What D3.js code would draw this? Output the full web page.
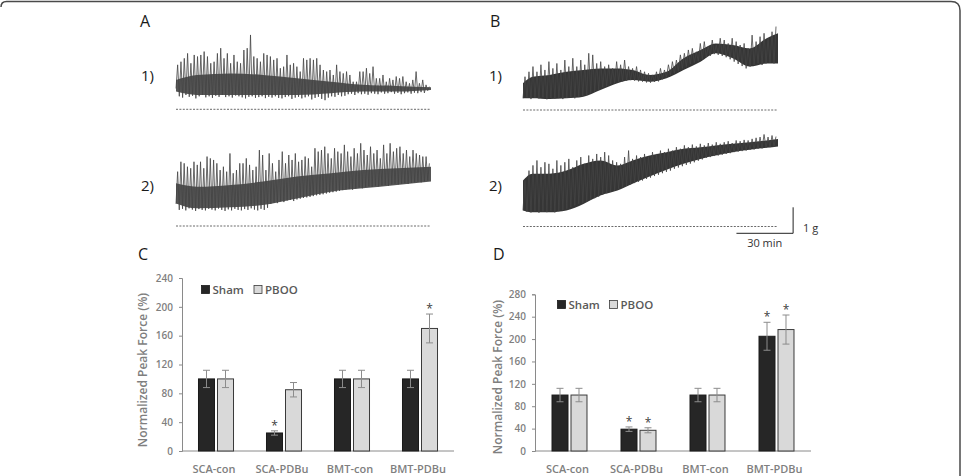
<!DOCTYPE html>
<html>
  <head>
    <title>Peak force traces and bars</title>
    <script src="https://d3js.org/d3.v7.min.js"></script>
    <style>
      body { margin: 0; background: #fff; }
      text { font-family: "Open Sans", sans-serif; }
      .panel-label { font-size: 16px; fill: #1a1a1a; }
      .trace-label { font-size: 15px; fill: #1a1a1a; }
      .axis path, .axis line { stroke: #8a8a8a; }
      .axis text { font-size: 10px; font-weight: 600; fill: #7f7f7f; }
      .cat-label { font-size: 11px; font-weight: 600; fill: #7f7f7f; }
      .y-title { font-size: 12px; font-weight: 600; fill: #7f7f7f; }
      .legend text { font-size: 11.5px; font-weight: 600; fill: #595959; }
      .star { font-size: 12px; fill: #404040; }
      .scale-text { font-size: 11px; fill: #333; }
    </style>
  </head>
  <body>
    <svg width="965" height="476"></svg>
    <script>
      // ---- trace data (force in g, evenly spaced over the recording) ----
      const traceMinutes = 135;

      const a1Peaks = [1.71,1.83,1.96,2.15,1.77,2.09,2.03,2.09,2.22,2.03,
        1.77,1.83,2.15,2.35,1.96,2.15,1.77,2.09,1.83,1.77,
        2.28,2.35,2.86,2.03,1.96,1.83,2.15,2.09,2.03,1.90,
        1.96,1.58,1.64,2.09,1.71,1.77,1.64,1.45,1.96,1.90,
        1.96,1.90,1.96,1.71,1.51,1.45,1.51,1.32,1.71,1.45,
        1.38,1.45,1.32,1.06,1.06,1.45,1.45,1.58,1.38,1.64,
        1.19,1.19,1.32,1.06,1.19,1.13,1.26,1.19,1.26,1.06,
        1.00,1.13,1.45,1.00,1.13,0.94,0.87];
      const a1Troughs = [0.8,0.5,0.45,0.55,0.48,0.52,0.42,0.5,0.55,0.46,
        0.5,0.44,0.52,0.48,0.55,0.47,0.5,0.45,0.53,0.5,
        0.46,0.42,0.48,0.5,0.44,0.47,0.5,0.43,0.48,0.45,
        0.5,0.44,0.42,0.47,0.5,0.4,0.45,0.48,0.42,0.46,
        0.5,0.38,0.44,0.48,0.4,0.35,0.45,0.5,0.48,0.55,
        0.5,0.52,0.58,0.6,0.55,0.62,0.58,0.6,0.56,0.62,
        0.6,0.58,0.65,0.6,0.62,0.66,0.6,0.63,0.58,0.62,
        0.65,0.6,0.64,0.62,0.66,0.63,0.72];
      const aCoreTime = [0, 11, 29, 46, 64, 82, 99, 117, 135];
      const a1CoreLow = [0.68, 0.55, 0.55, 0.55, 0.55, 0.62, 0.68, 0.68, 0.74];
      const a1CoreHigh = [1.13, 1.32, 1.38, 1.32, 1.19, 1.06, 0.94, 0.9, 0.85];

      const a2Peaks = [2.09,2.47,2.41,2.28,2.22,2.47,2.35,2.47,2.22,2.67,
        2.6,2.54,2.41,2.15,2.28,2.09,2.79,2.03,2.15,2.41,
        2.41,2.6,2.35,2.15,2.28,2.92,2.73,2.15,2.79,2.41,
        2.09,2.54,2.86,2.41,2.73,2.54,2.79,2.47,2.54,2.67,
        2.6,2.28,2.99,2.86,2.92,3.05,2.79,2.6,2.99,2.86,
        2.79,3.12,2.86,2.67,2.99,2.79,3.18,2.92,2.73,3.05,
        2.79,2.92,2.6,3.12,2.79,3.18,2.86,2.99,3.05,2.79,
        2.92,2.67,2.92,2.79,2.73,2.67,2.67,2.41];
      const a2Troughs = [0.85,0.62,0.66,0.6,0.68,0.63,0.58,0.65,0.62,0.6,
        0.66,0.63,0.6,0.67,0.62,0.58,0.64,0.6,0.66,0.62,
        0.6,0.65,0.62,0.68,0.63,0.6,0.66,0.62,0.7,0.85,
        0.9,0.88,0.95,0.92,0.98,1.0,0.96,1.02,1.05,1.08,
        1.1,1.12,1.15,1.18,1.2,1.22,1.25,1.28,1.3,1.32,
        1.35,1.38,1.4,1.42,1.4,1.45,1.48,1.45,1.5,1.52,
        1.5,1.55,1.52,1.56,1.58,1.55,1.6,1.62,1.6,1.63,
        1.65,1.62,1.66,1.68,1.7,1.68,1.72,1.75];
      const a2CoreLow = [0.87, 0.68, 0.72, 0.81, 1.06, 1.32, 1.45, 1.58, 1.71];
      const a2CoreHigh = [1.64, 1.51, 1.58, 1.71, 1.9, 2.03, 2.15, 2.22, 2.28];

      const b1Peaks = [1.28,1.47,1.67,1.47,1.74,1.54,1.86,1.6,1.79,1.54,
        1.92,1.67,1.99,1.67,1.92,1.74,2.18,2.12,1.79,1.86,
        1.67,1.74,1.6,1.86,1.74,1.92,1.67,1.6,1.67,1.54,
        1.47,1.41,1.35,1.47,1.6,1.54,1.74,1.86,1.92,2.12,
        2.18,2.31,2.37,2.24,2.56,2.63,2.44,2.69,2.5,2.76,
        2.69,2.56,2.76,2.63,2.5,2.56,2.37,2.88,2.63,2.82,
        2.95,2.76,3.01,3.21];
      const b1Troughs = [0.45,0.49,0.42,0.47,0.44,0.49,0.41,0.46,0.44,0.47,
        0.42,0.46,0.49,0.45,0.51,0.54,0.58,0.64,0.71,0.77,
        0.87,0.92,1.0,1.03,1.08,1.1,1.13,1.15,1.13,1.1,
        1.09,1.06,1.05,1.08,1.1,1.18,1.26,1.35,1.41,1.51,
        1.6,1.67,1.77,1.82,1.88,1.95,2.03,2.08,2.15,2.12,
        2.08,2.03,1.95,1.86,1.77,1.69,1.6,1.67,1.73,1.79,
        1.73,1.79,1.82,1.79];
      const bCoreTime = [0, 5, 14, 23, 32, 41, 50, 58, 67, 76, 85, 94, 102, 111, 120, 129, 135];
      const b1CoreLow = [0.45,0.45,0.42,0.45,0.51,0.77,1.03,1.15,1.09,1.22,1.54,1.86,2.18,1.99,1.67,1.79,1.79];
      const b1CoreHigh = [1.03,1.28,1.35,1.47,1.54,1.6,1.6,1.54,1.35,1.47,1.99,2.31,2.56,2.5,2.37,2.76,2.95];

      const b2Peaks = [1.77,2.15,2.35,2.54,2.28,2.47,2.41,2.22,2.54,2.35,
        2.47,2.6,2.28,2.54,2.67,2.41,2.73,2.6,2.79,2.67,
        2.86,2.73,2.54,2.47,2.41,2.67,2.92,2.6,2.73,2.67,
        2.79,2.67,2.86,2.79,2.92,2.86,2.99,2.92,3.05,2.99,
        3.12,3.05,3.15,3.08,3.18,3.12,3.21,3.15,3.24,3.18,
        3.24,3.28,3.21,3.31,3.28,3.33,3.31,3.37,3.41,3.44,
        3.54,3.44,3.5,3.46];
      const b2Troughs = [0.62,0.56,0.54,0.59,0.53,0.58,0.55,0.6,0.54,0.59,
        0.62,0.68,0.74,0.81,0.87,0.91,0.96,1.03,1.09,1.15,
        1.22,1.28,1.33,1.38,1.45,1.51,1.56,1.62,1.67,1.72,
        1.77,1.83,1.88,1.94,1.99,2.05,2.1,2.15,2.22,2.27,
        2.32,2.37,2.42,2.47,2.53,2.58,2.64,2.67,2.71,2.73,
        2.76,2.79,2.82,2.86,2.88,2.9,2.92,2.95,2.96,2.99,
        3.0,3.03,3.05,3.08];
      const b2CoreLow = [0.62,0.55,0.55,0.62,0.87,1.19,1.38,1.64,1.92,2.18,2.41,2.6,2.73,2.86,2.95,3.03,3.08];
      const b2CoreHigh = [1.77,2.03,2.03,2.15,2.41,2.54,2.35,2.54,2.73,2.86,2.99,3.05,3.12,3.18,3.24,3.31,3.37];

      // ---- bar data (normalized peak force, %) ----
      const categories = ["SCA-con", "SCA-PDBu", "BMT-con", "BMT-PDBu"];
      const series = ["Sham", "PBOO"];
      const cSham = [100, 25, 100, 100];
      const cShamErr = [12, 3, 12, 12];
      const cPboo = [100, 85, 100, 170];
      const cPbooErr = [12, 10, 12, 20];
      const cStars = [["SCA-PDBu", "Sham"], ["BMT-PDBu", "PBOO"]];
      const cTicks = [0, 40, 80, 120, 160, 200, 240];

      const dSham = [100, 39, 100, 205];
      const dShamErr = [12, 4, 12, 25];
      const dPboo = [100, 37, 100, 217];
      const dPbooErr = [12, 4.5, 12, 26];
      const dStars = [["SCA-PDBu", "Sham"], ["SCA-PDBu", "PBOO"], ["BMT-PDBu", "Sham"], ["BMT-PDBu", "PBOO"]];
      const dTicks = [0, 40, 80, 120, 160, 200, 240, 280];

      const svg = d3.select("svg");
      const gramPx = 26;

      // figure frame
      svg.append("path")
        .attr("d", "M1,7 Q1,1.5 6.5,1.5 L951,1.5 Q960,1.5 960,10.5 L960,476")
        .attr("fill", "none")
        .attr("stroke", "#4a4a4a")
        .attr("stroke-width", 1.5);

      function drawTrace(x0, x1, base, peaks, troughs, coreTime, coreLow, coreHigh, coreOpacity) {
        const x = d3.scaleLinear().domain([0, traceMinutes]).range([x0, x1]);
        const y = d3.scaleLinear().domain([0, 1]).range([base, base - gramPx]);
        const g = svg.append("g");

        g.append("path")
          .attr("d", d3.line()([[x(0), y(0)], [x(traceMinutes), y(0)]]))
          .attr("stroke", "#444")
          .attr("stroke-width", 0.8)
          .attr("stroke-dasharray", "2,1.4");

        g.append("path")
          .datum(coreTime)
          .attr("d", d3.area()
            .x(d => x(d))
            .y0((d, i) => y(coreLow[i]))
            .y1((d, i) => y(coreHigh[i]))
            .curve(d3.curveMonotoneX))
          .attr("fill", "#2a2a2a")
          .attr("fill-opacity", coreOpacity);

        // one beat per sample: trough, then peak
        const step = traceMinutes / peaks.length;
        const pts = peaks.flatMap((p, i) => [[i * step, troughs[i]], [i * step + step / 2, p]]);
        g.append("path")
          .datum(pts)
          .attr("d", d3.line().x(d => x(d[0])).y(d => y(d[1])))
          .attr("fill", "none")
          .attr("stroke", "#444")
          .attr("stroke-width", 0.8);
        return { x, y };
      }

      drawTrace(176, 431, 109.3, a1Peaks, a1Troughs, aCoreTime, a1CoreLow, a1CoreHigh, 0.8);
      drawTrace(176, 431, 226, a2Peaks, a2Troughs, aCoreTime, a2CoreLow, a2CoreHigh, 0.8);
      drawTrace(523, 778, 110, b1Peaks, b1Troughs, bCoreTime, b1CoreLow, b1CoreHigh, 0.95);
      const b2 = drawTrace(523, 778, 226.5, b2Peaks, b2Troughs, bCoreTime, b2CoreLow, b2CoreHigh, 0.95);

      // scale bar: 30 min x 1 g
      const barEnd = 143;
      const barY = d3.scaleLinear().domain([0, 1]).range([233.3, 233.3 - gramPx]);
      svg.append("path")
        .attr("d", d3.line()([[b2.x(barEnd - 30), barY(0)], [b2.x(barEnd), barY(0)], [b2.x(barEnd), barY(1)]]))
        .attr("fill", "none")
        .attr("stroke", "#222")
        .attr("stroke-width", 1);
      svg.append("text").attr("class", "scale-text")
        .attr("x", b2.x(barEnd - 15)).attr("y", 247).attr("text-anchor", "middle").text("30 min");
      svg.append("text").attr("class", "scale-text")
        .attr("x", b2.x(barEnd) + 10).attr("y", 231.5).text("1 g");

      // panel and trace labels
      [["A", 140, 27], ["B", 490, 27], ["C", 138, 260], ["D", 493, 260]].forEach(([t, px, py]) =>
        svg.append("text").attr("class", "panel-label").attr("x", px).attr("y", py).text(t));
      [["1)", 141, 81], ["2)", 141, 191], ["1)", 489, 81], ["2)", 489, 191]].forEach(([t, px, py]) =>
        svg.append("text").attr("class", "trace-label").attr("x", px).attr("y", py).text(t));

      function drawBars(o) {
        const x = d3.scaleBand().domain(categories).range([o.left, o.right])
          .paddingInner(o.padIn).paddingOuter(o.padIn / 2);
        const xs = d3.scaleBand().domain(series).range([0, x.bandwidth()]).paddingInner(0.158);
        const y = d3.scaleLinear().domain([0, o.max]).range([451, o.top]);
        const g = svg.append("g");

        g.append("line")
          .attr("x1", o.left).attr("x2", o.right)
          .attr("y1", y(0)).attr("y2", y(0))
          .attr("stroke", "#8a8a8a");

        g.append("g").attr("class", "axis")
          .attr("transform", `translate(${o.left},0)`)
          .call(d3.axisLeft(y).tickValues(o.ticks).tickSize(3).tickPadding(6));

        const rows = categories.flatMap((c, i) => [
          { c, s: "Sham", v: o.sham[i], e: o.shamErr[i] },
          { c, s: "PBOO", v: o.pboo[i], e: o.pbooErr[i] }
        ]);
        const cx = d => x(d.c) + xs(d.s);

        g.selectAll(".bar").data(rows).enter().append("rect")
          .attr("class", "bar")
          .attr("x", cx)
          .attr("y", d => y(d.v))
          .attr("width", xs.bandwidth())
          .attr("height", d => y(0) - y(d.v))
          .attr("fill", d => d.s === "Sham" ? "#262626" : "#d9d9d9")
          .attr("stroke", d => d.s === "Sham" ? "#1a1a1a" : "#3a3a3a")
          .attr("stroke-width", 1);

        const err = g.selectAll(".err").data(rows).enter().append("g").attr("class", "err")
          .attr("stroke", "#8c8c8c").attr("stroke-width", 1);
        const mid = d => cx(d) + xs.bandwidth() / 2;
        err.append("line").attr("x1", mid).attr("x2", mid)
          .attr("y1", d => y(d.v + d.e)).attr("y2", d => y(d.v - d.e));
        err.append("line").attr("x1", d => mid(d) - 3.5).attr("x2", d => mid(d) + 3.5)
          .attr("y1", d => y(d.v + d.e)).attr("y2", d => y(d.v + d.e));
        err.append("line").attr("x1", d => mid(d) - 3.5).attr("x2", d => mid(d) + 3.5)
          .attr("y1", d => y(d.v - d.e)).attr("y2", d => y(d.v - d.e));

        g.selectAll(".star").data(rows.filter(d => o.stars.some(s => s[0] === d.c && s[1] === d.s)))
          .enter().append("text").attr("class", "star")
          .attr("x", mid).attr("y", d => y(d.v + d.e) - 1)
          .attr("text-anchor", "middle").text("*");

        g.selectAll(".cat-label").data(categories).enter().append("text")
          .attr("class", "cat-label")
          .attr("x", d => x(d) + x.bandwidth() / 2 - 2)
          .attr("y", 473)
          .attr("text-anchor", "middle")
          .text(d => d);

        g.append("text").attr("class", "y-title")
          .attr("transform", `translate(${o.titleX},${o.titleY}) rotate(-90)`)
          .attr("text-anchor", "middle")
          .text("Normalized Peak Force (%)");

        const leg = g.append("g").attr("class", "legend");
        series.forEach((s, i) => {
          const lx = o.legX[i];
          leg.append("rect").attr("x", lx).attr("y", o.legY - 8).attr("width", 8).attr("height", 8)
            .attr("fill", s === "Sham" ? "#262626" : "#d9d9d9")
            .attr("stroke", s === "Sham" ? "#1a1a1a" : "#3a3a3a").attr("stroke-width", 0.8);
          leg.append("text").attr("x", lx + 11).attr("y", o.legY + 0.5).text(s);
        });
      }

      drawBars({ left: 182, right: 454, padIn: 0.485, top: 278, max: 240, ticks: cTicks,
        sham: cSham, shamErr: cShamErr, pboo: cPboo, pbooErr: cPbooErr, stars: cStars,
        titleX: 147, titleY: 370, legX: [201.5, 254], legY: 293.5 });
      drawBars({ left: 535, right: 811, padIn: 0.493, top: 294.3, max: 280, ticks: dTicks,
        sham: dSham, shamErr: dShamErr, pboo: dPboo, pbooErr: dPbooErr, stars: dStars,
        titleX: 502, titleY: 377, legX: [557.5, 609.5], legY: 308.5 });
    </script>
  </body>
</html>
